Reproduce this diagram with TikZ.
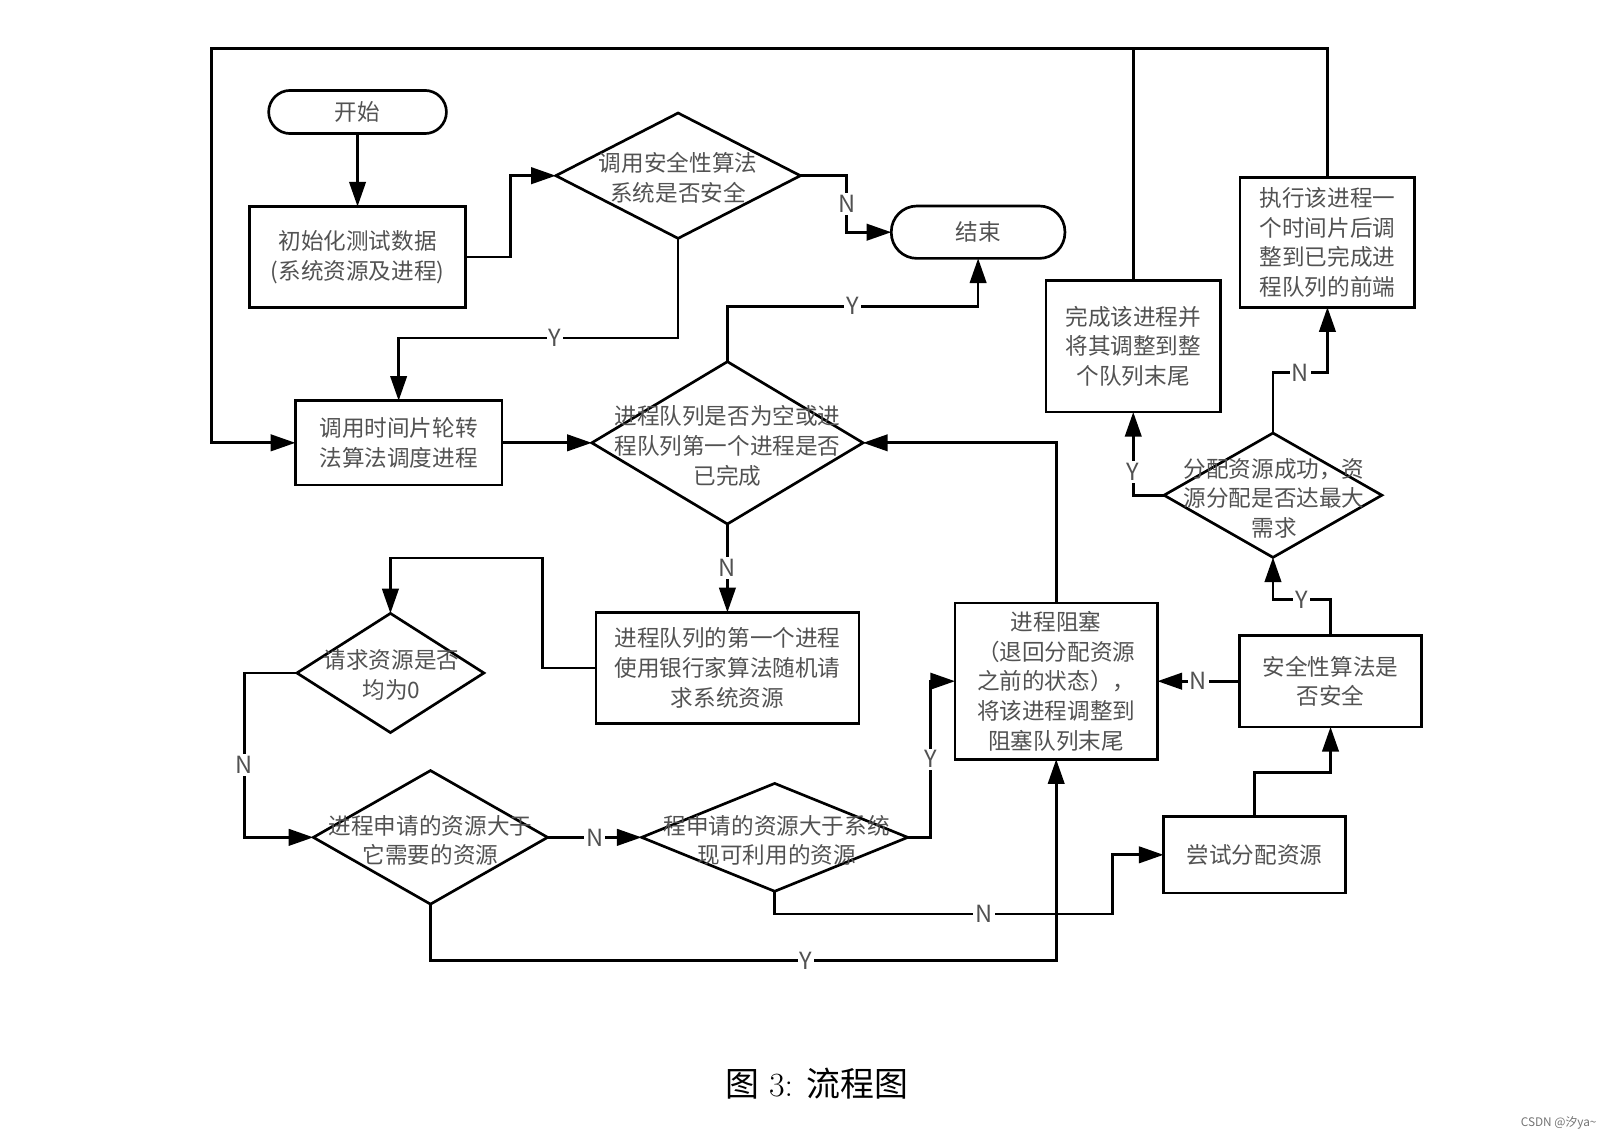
\documentclass[tikz,border=0pt]{standalone}
\usepackage{fontspec}
\newfontfamily\cjk{Noto Sans CJK SC}
\usetikzlibrary{shapes.geometric,arrows.meta}
\begin{document}
\begin{tikzpicture}[x=1pt,y=-1pt,
  every node/.style={outer sep=0pt},
  base/.style={draw, line width=2.6pt, inner sep=0pt},
  txt/.style={font=\cjk\fontsize{22}{29}\selectfont, text=black!68, align=center, inner sep=0pt},
  proc/.style={base, rectangle, txt},
  term/.style={base, rectangle, txt},
  dec/.style={base, diamond},
  conn/.style={line width=2.6pt},
  arr/.style={conn, -{Triangle[length=24pt,width=16pt]}},
  lab/.style={font=\cjk\fontsize{23}{23}\selectfont, text=black!68, fill=white, inner sep=2pt},
]
\useasboundingbox (0,0) rectangle (1568,1109);

% terminals
\node[term, minimum width=173pt, minimum height=42pt, rounded corners=21pt] (start) at (348,109) {开始};
\node[term, minimum width=169pt, minimum height=51pt, rounded corners=25pt] (end) at (952,226) {结束};

% process boxes
\node[proc, minimum width=210pt, minimum height=98pt] (b2) at (348,250) {初始化测试数据\\(系统资源及进程)};
\node[proc, minimum width=201pt, minimum height=82pt] (b5) at (388,431) {调用时间片轮转\\法算法调度进程};
\node[proc, minimum width=170pt, minimum height=128pt] (b7) at (1103,337) {完成该进程并\\将其调整到整\\个队列末尾};
\node[proc, minimum width=170pt, minimum height=126pt] (b8) at (1292,236) {执行该进程一\\个时间片后调\\整到已完成进\\程队列的前端};
\node[proc, minimum width=256pt, minimum height=108pt] (b10) at (708,650) {进程队列的第一个进程\\使用银行家算法随机请\\求系统资源};
\node[proc, minimum width=197pt, minimum height=152pt] (b12) at (1028,663) {进程阻塞\\（退回分配资源\\之前的状态），\\将该进程调整到\\阻塞队列末尾};
\node[proc, minimum width=177pt, minimum height=89pt] (b13) at (1295,663) {安全性算法是\\否安全};
\node[proc, minimum width=177pt, minimum height=74pt] (b16) at (1221,832) {尝试分配资源};

% decisions
\node[dec, minimum width=238pt, minimum height=122pt] (d3) at (660,171) {};
\node[dec, minimum width=264pt, minimum height=158pt] (d6) at (708,431) {};
\node[dec, minimum width=212pt, minimum height=121pt] (d9) at (1239,482) {};
\node[dec, minimum width=182pt, minimum height=116pt] (d11) at (380,655) {};
\node[dec, minimum width=228pt, minimum height=130pt] (d14) at (419,815) {};
\node[dec, minimum width=259pt, minimum height=105pt] (d15) at (754,815) {};

\node[txt] (t3) at (660,173) {调用安全性算法\\系统是否安全};
\node[txt] (t6) at (708,434) {进程队列是否为空或进\\程队列第一个进程是否\\已完成};
\node[txt] (t9) at (1240,485) {分配资源成功，资\\源分配是否达最大\\需求};
\node[txt] (t11) at (381,657) {请求资源是否\\均为0};
\node[txt] (t14) at (419,818) {进程申请的资源大于\\它需要的资源};
\node[txt] (t15) at (756,818) {程申请的资源大于系统\\现可利用的资源};

% connectors
\coordinate (tl) at (206,47);
\draw[arr] (start.south) -- (b2.north);
\draw[arr] (b2.east) -- ++(44,0) |- (d3.west);
\draw[arr] (d3.east) -- ++(45,0) |- node[lab,pos=0.25]{N} (end.west);
\draw[arr] (d3.south) -- ++(0,97) -| node[lab,pos=0.22]{Y} (b5.north);
\draw[arr] (d6.north) -- ++(0,-54) -| node[lab,pos=0.25]{Y} (end.south);
\draw[arr] (b5.east) -- (d6.west);
\draw[arr] (b7.north) |- (tl) |- (b5.west);
\draw[conn] (b8.north) |- (b7.north |- tl);
\draw[arr] (d6.south) -- node[lab]{N} (b10.north);
\draw[arr] (b10.west) -| (528,543) -| (d11.north);
\draw[arr] (d11.west) -- ++(-51,0) |- node[lab,pos=0.28]{N} (d14.west);
\draw[arr] (d14.east) -- node[lab]{N} (d15.west);
\draw[arr] (d15.east) -- ++(22,0) |- node[lab,pos=0.25]{Y} (b12.west);
\draw[arr] (d15.south) -- ++(0,22) -| node[lab,pos=0.31]{N} ([xshift=-50pt]b16.west) -- (b16.west);
\draw[arr] (d14.south) -- ++(0,55) -| node[lab,pos=0.3]{Y} (b12.south);
\draw[arr] (b16.north) -- ++(0,-43) -| (b13.south);
\draw[arr] (b13.west) -- node[lab]{N} (b12.east);
\draw[arr] (b13.north) -- ++(0,-35) -| node[lab,pos=0.25]{Y} (d9.south);
\draw[arr] (d9.west) -| node[lab,pos=0.64]{Y} (b7.south);
\draw[arr] (d9.north) -- ++(0,-59) -| node[lab,pos=0.25]{N} (b8.south);
\draw[arr] (b12.north) |- (d6.east);

% caption and watermark
\node[font=\fontsize{33}{40}\selectfont] (cap) at (795,1055) {{\cjk 图} 3: {\cjk 流程图}};
\node[font=\cjk\fontsize{11.5}{12}\selectfont, text=black!55] (wm) at (1517,1093) {CSDN @汐ya\textasciitilde};
\end{tikzpicture}
\end{document}
